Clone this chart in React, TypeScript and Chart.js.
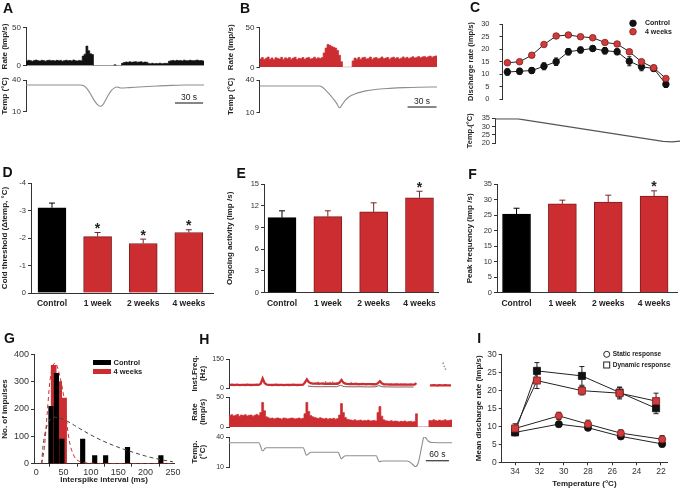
import React, { useEffect, useRef } from "react";
import { Chart, registerables } from "chart.js";

Chart.register(...registerables);

const FONT = "'Liberation Sans', Arial, Helvetica, sans-serif";
Chart.defaults.font.family = FONT;

const INK = "#222222";
const AXIS = "#333333";
const TICK = "#333333";
const RED = "#cc2d30";
const RED_PT = "#d13b3b";
const RED_EDGE = "#7e1d1d";
const ERR_RED = "#7a2525";
const TRACE = "#8e8e8e";

/* ====================== DATA ====================== */

// A: control unit, 2-s rate bins (imp/s) and temperature trace
const aBinSec = 2;
const aRate = [
  6.2, 7.1, 6.5, 5.8, 6.9, 7.3, 6.4, 6.0, 7.0, 6.6, 5.9, 6.8, 7.2, 6.3, 6.7, 6.1, 7.0, 6.5, 6.9, 5.8,
  6.6, 7.1, 6.4, 6.8, 6.2, 7.4, 6.5, 6.0, 6.9, 6.3,
  12.5, 15, 25.5, 19.5, 15.5, 14.5,
  0, 0, 0, 0, 0, 0, 0, 0, 0, 0, 0,
  1.2, 0, 0, 0,
  3.2, 4.2, 4.8, 4.5, 5.0, 4.4, 4.9, 5.2, 4.6, 4.8, 5.1, 4.3, 4.7, 4.5,
  3.0, 2.6, 3.2, 2.4, 2.9, 2.7, 3.3, 2.5, 2.8, 3.1, 2.9,
  5.8, 6.4, 6.9, 6.2, 7.0, 6.5, 6.8, 6.1, 7.2, 6.6, 6.3, 7.1, 6.7, 6.4, 6.9, 7.3, 6.6, 6.8, 6.2,
];
const aTempSec = [0, 58, 61, 64, 67, 70, 73, 76, 79, 82, 85, 88, 91, 94, 97, 99, 102, 110, 125, 140, 155, 170, 190];
const aTempC = [35.3, 35.3, 34.8, 33, 29.5, 25, 20.5, 17, 15.2, 16.5, 21, 26, 30, 32.3, 33.4, 33, 32.4, 32.8, 33.6, 34.3, 34.9, 35.2, 35.3];
const aScaleBarEndSec = 189;

// B: 4-week unit
const bBinSec = 2;
const bRate = [
  10.5, 12.2, 9.8, 11.4, 12.8, 10.1, 11.7, 9.5, 12.0, 11.1, 10.4, 12.5, 9.9, 11.8, 10.7, 12.3, 10.2, 11.5, 12.6, 9.7,
  11.2, 10.8, 12.1, 10.0, 11.6, 12.4, 10.3, 11.0, 12.7, 10.6, 11.9, 10.9, 12.2,
  18, 24, 28.5, 27.5, 26, 25, 24, 21, 15, 7,
  0, 0, 0, 0, 0,
  8,
  11.5, 10.2, 12.4, 9.8, 11.9, 12.6, 10.4, 11.1, 12.8, 10.0, 11.7, 12.2, 10.6, 11.3, 12.9, 10.8, 11.6, 12.3, 10.1, 11.8,
  12.7, 11.0, 12.1, 10.5, 11.4, 13.0, 11.2, 12.5, 10.9, 12.0, 13.2, 11.6, 12.4, 13.4, 11.8, 12.9, 13.6, 12.2, 13.1, 14.0,
  12.6, 13.5, 14.2,
];
const bTempSec = [0, 62, 65, 68, 71, 74, 77, 80, 83, 86, 89, 93, 97, 102, 110, 120, 135, 150, 165, 184];
const bTempC = [34.5, 34.5, 33.6, 31.2, 28.5, 25.5, 22.2, 18.5, 14.5, 17.8, 21.5, 24.6, 26.5, 28.2, 30, 31.3, 32.3, 33, 33.4, 33.6];
const bScaleBarEndSec = 183.5;
const scaleBarSec = 30;

// C: discharge rate during cooling ramp
const cStep = [0, 1, 2, 3, 4, 5, 6, 7, 8, 9, 10, 11, 12, 13];
const cControl = [10.8, 11.1, 11.4, 13.1, 14.9, 18.9, 19.6, 20.2, 19.3, 18.9, 15.1, 12.9, 12.2, 5.9];
const cControlErr = [1.3, 1.2, 1.2, 1.4, 1.5, 1.3, 1.2, 1.1, 1.3, 1.2, 1.8, 1.6, 1.2, 1.3];
const cWeeks4 = [14.5, 14.9, 17.5, 21.8, 25.2, 25.6, 24.9, 24.5, 22.6, 22.0, 18.9, 14.9, 12.5, 8.2];
const cWeeks4Err = [0.6, 0.6, 0.6, 0.6, 0.6, 0.6, 0.6, 0.6, 0.7, 0.7, 0.8, 0.8, 1.0, 0.8];
const cTempSec = [0, 23, 168, 177, 185];
const cTempC = [34.6, 34.6, 21.1, 20.8, 21.3];

// D, E, F: group bars
const groups = ["Control", "1 week", "2 weeks", "4 weeks"];
const thresholdMean = [-3.1, -2.05, -1.8, -2.2];
const thresholdErr = [0.17, 0.15, 0.16, 0.1];
const thresholdStar = [false, true, true, true];
const ongoingMean = [10.35, 10.5, 11.15, 13.1];
const ongoingErr = [0.95, 0.8, 1.25, 0.9];
const ongoingStar = [false, false, false, true];
const peakMean = [25.3, 28.6, 29.2, 31.1];
const peakErr = [1.9, 1.2, 2.2, 1.7];
const peakStar = [false, false, false, true];

// G: interspike interval histogram
const isiMsControl = [27, 37, 47, 85, 107, 127, 167, 228];
const isiCountControl = [210, 330, 90, 90, 30, 30, 60, 30];
const isiMs4w = [32, 42, 51];
const isiCount4w = [360, 300, 240];
const fitMs = [10, 12, 15, 20, 25, 30, 35, 40, 50, 60, 70, 80, 100, 120, 140, 160, 180, 200, 220, 250];
const fitControl = [0, 55, 100, 140, 160, 168, 170, 168, 162, 152, 140, 128, 105, 85, 68, 53, 40, 28, 18, 7];
const fit4w = [0, 20, 60, 180, 300, 355, 368, 345, 250, 90, 25, 8, 2, 1, 0, 0, 0, 0, 0, 0];

// H: step cooling, 5-s bins
const hBinSec = 5;
const hRate = [
  19, 20.5, 18.5, 19.5, 21, 18, 20, 19, 20.5, 18.5, 19.5, 20, 18, 19.5, 21, 19,
  24, 41, 27, 17,
  15.5, 14, 15, 13.5, 14.5, 15, 14, 13, 15, 14.5, 13.5, 14, 15, 14.5, 13.5, 14, 15, 13.5, 14.5,
  22, 41, 26, 19,
  17, 16, 15, 14, 15.5, 14, 13.5, 14.5, 13, 14, 13.5, 14.5, 13, 14,
  20, 39, 24, 16,
  13, 12, 11.5, 11, 12, 10.5, 11, 11.5, 10, 11, 10.5, 11.5, 10, 10.5, 11, 10,
  24, 34, 18,
  12, 10.5, 10, 9.5, 10.5, 9, 10, 9.5, 8.5, 9.5, 9, 10, 8.5, 9, 9.5, 8.5, 9,
  22,
  0, 0, 0, 0, 0, 0,
  11, 10.5, 12, 11, 10, 11.5, 10.5, 11, 12, 10.5, 11, 11.5,
];
const hFreq = [
  16, 17, 15.5, 16.5, 17, 15, 16, 16.5, 15.5, 17, 16, 15.5, 16.5, 16, 17, 16,
  22, 50, 26, 18,
  16.5, 16, 15.5, 16, 17, 15.5, 16, 16.5, 15, 16, 16.5, 15.5, 16, 17, 16, 15.5, 16.5, 16, 17,
  28, 45, 30, 25,
  23, 22.5, 23.5, 22, 23, 22.5, 21.5, 23, 22, 22.5, 21.5, 22, 23, 22,
  28, 42, 28, 23,
  21, 20.5, 21.5, 20, 21, 20.5, 19.5, 20.5, 21, 20, 19.5, 20.5, 20, 19.5, 20.5, 19,
  25, 35, 24,
  19, 18.5, 19, 18, 18.5, 17.5, 18.5, 18, 17.5, 18, 17, 18, 17.5, 17, 18, 17, 17.5,
  25,
  null, null, null, null, null, null,
  14, 13.5, 14.5, 14, 13, 14.5, 13.5, 14, 14.5, 13.5, 14, 13.5,
];
const hFreq2Sec = [205, 220, 240, 260, 280, 290, 300, 320, 340, 360, 380, 390, 400, 420, 440, 460, 480];
const hFreq2Hz = [10, 7, 6.5, 7, 6.5, 14, 7, 6, 6.5, 5.5, 6, 12, 6, 5.5, 5, 5.5, 5];
const hDotSec = [232, 245, 251, 263, 270, 281, 318, 331, 557, 560, 563];
const hDotHz = [29, 27, 31, 28, 30, 27, 26, 25, 128, 112, 98];
const hTempSec = [0, 78, 82, 86, 89, 93, 98, 193, 197, 201, 205, 210, 214, 284, 288, 292, 296, 301, 305, 383, 387, 391, 396, 402, 462, 470, 478, 485, 492, 498, 503, 507, 512, 518, 528, 580];
const hTempC = [34.3, 34.3, 31, 26.5, 26.2, 28.5, 29.3, 29.3, 26, 21.8, 22.5, 24.2, 24.7, 24.7, 21.5, 18.2, 19.5, 21, 21.3, 21.3, 18, 15.4, 15.8, 16, 16, 15, 12.5, 10.3, 14, 24, 34, 40.3, 39, 36, 34.5, 34.3];
const hScaleBarEndSec = 572;
const hScaleBarSec = 60;

// I: static / dynamic responses vs temperature
const iDynTemp = [34, 32.2, 28.5, 25.4, 22.4];
const iDynControl = [8.3, 25.4, 24.0, 19.4, 15.0];
const iDynControlErr = [0.8, 2.3, 2.6, 1.5, 1.5];
const iDyn4w = [9.4, 22.7, 19.9, 19.2, 17.0];
const iDyn4wErr = [1.3, 2.2, 1.2, 1.6, 2.2];
const iStatTemp = [34, 30.4, 28, 25.3, 21.9];
const iStatControl = [8.3, 10.6, 9.6, 7.2, 5.1];
const iStatControlErr = [0.6, 0.5, 0.5, 0.6, 0.8];
const iStat4w = [9.4, 12.9, 10.6, 8.1, 6.4];
const iStat4wErr = [0.8, 1.0, 1.1, 0.9, 1.0];

/* ====================== LAYOUT ====================== */

const BOX: Record<string, number[]> = {
  aRate: [0, 15, 215, 60], aTemp: [0, 72, 215, 45],
  bRate: [226, 15, 220, 60], bTemp: [226, 72, 220, 45],
  c: [466, 8, 214, 100], cTemp: [465, 106, 215, 46],
  d: [0, 175, 222, 140], e: [225, 175, 225, 140], f: [465, 175, 215, 140],
  g: [0, 345, 190, 145],
  hFreq: [191, 352, 265, 40], hRate: [191, 392, 265, 38], hTemp: [191, 432, 265, 40],
  i: [474, 345, 206, 145],
};
const AREA: Record<string, number[]> = {
  aRate: [26, 27.3, 204, 65.7], aTemp: [26, 80, 204, 111.7],
  bRate: [259.5, 27.3, 437, 67.3], bTemp: [259.5, 80, 437, 112.7],
  c: [502.5, 24, 672, 99], cTemp: [495, 118.3, 680, 143.3],
  d: [31, 183, 213, 293], e: [264, 184, 438, 292.7], f: [497, 184, 677, 292.7],
  g: [34, 354.3, 174, 463.7],
  hFreq: [229, 359, 452, 388], hRate: [229, 397, 452, 427], hTemp: [229, 437, 452, 467],
  i: [501.7, 354.3, 667, 462.3],
};

type Frame = { padding: any; yW: number; xH: number; ox: number; oy: number };
function frame(key: string): Frame {
  const box = BOX[key];
  const area = AREA[key];
  return {
    padding: { left: 0, top: area[1] - box[1], right: box[0] + box[2] - area[2], bottom: 0 },
    yW: area[0] - box[0],
    xH: box[1] + box[3] - area[3],
    ox: box[0],
    oy: box[1],
  };
}

const zeroPad = (s: any) => {
  s.paddingLeft = 0; s.paddingRight = 0; s.paddingTop = 0; s.paddingBottom = 0;
};
const fnt = (size: number, bold = false, lh = 1.2) => ({ family: FONT, size, weight: bold ? "bold" : "normal", lineHeight: lh });

function yAx(f: Frame, o: any) {
  return {
    type: "linear", position: "left", min: o.min, max: o.max, reverse: !!o.reverse, offset: false,
    afterFit: (s: any) => { s.width = f.yW; zeroPad(s); },
    afterBuildTicks: (s: any) => { s.ticks = o.ticks.map((v: number) => ({ value: v })); },
    grid: { display: true, drawOnChartArea: false, drawTicks: true, tickLength: o.tickLen ?? 3, color: AXIS, lineWidth: 1 },
    border: { display: true, color: AXIS, width: 1 },
    ticks: { font: fnt(o.tickSize ?? 7.5), color: TICK, padding: o.tickPad ?? 2, autoSkip: false, callback: (v: any) => String(v) },
    title: {
      display: !!o.title, text: o.title || "", color: INK,
      font: fnt(o.titleSize ?? 8, true, o.titleLH ?? 1.2),
      padding: { top: o.titlePad ?? 0, bottom: 0 },
    },
  };
}

function xAx(f: Frame, o: any) {
  return {
    type: "linear", position: "bottom", min: o.min, max: o.max, reverse: !!o.reverse, offset: false,
    afterFit: (s: any) => { s.height = f.xH; zeroPad(s); },
    afterBuildTicks: (s: any) => { s.ticks = o.ticks.map((v: number) => ({ value: v })); },
    grid: { display: !!o.tickMarks, drawOnChartArea: false, drawTicks: !!o.tickMarks, tickLength: 3, color: AXIS, lineWidth: 1 },
    border: { display: true, color: AXIS, width: 1 },
    ticks: {
      font: fnt(o.tickSize ?? 8, !!o.tickBold), color: o.tickBold ? INK : TICK, padding: o.tickPad ?? 0,
      autoSkip: false, maxRotation: 0, minRotation: 0, callback: o.fmt ?? ((v: any) => String(v)),
    },
    title: {
      display: !!o.title, text: o.title || "", color: INK, font: fnt(o.titleSize ?? 8, true),
      padding: { top: 0, bottom: o.titlePad ?? 0 },
    },
  };
}

function xHidden(f: Frame, min: number, max: number) {
  return {
    type: "linear", position: "bottom", min, max, offset: false,
    afterFit: (s: any) => { s.height = f.xH; zeroPad(s); },
    grid: { display: false, drawTicks: false }, border: { display: false }, ticks: { display: false },
  };
}

function opts(f: Frame, scales: any) {
  return {
    responsive: false, maintainAspectRatio: false, animation: false, events: [],
    layout: { padding: f.padding },
    plugins: { legend: { display: false }, tooltip: { enabled: false }, title: { display: false } },
    scales,
  };
}

const pts = (xs: number[], ys: (number | null)[]) => xs.map((x, i) => ({ x, y: ys[i] }));
function histPts(vals: number[], bin: number) {
  const p = vals.map((v, i) => ({ x: i * bin, y: v }));
  p.push({ x: vals.length * bin, y: vals[vals.length - 1] });
  return p;
}

function vErr(ctx: any, x: number, yA: number, yB: number, cap: number, color: string) {
  ctx.save();
  ctx.strokeStyle = color; ctx.lineWidth = 1;
  ctx.beginPath();
  ctx.moveTo(x, yA); ctx.lineTo(x, yB);
  ctx.moveTo(x - cap, yA); ctx.lineTo(x + cap, yA);
  ctx.moveTo(x - cap, yB); ctx.lineTo(x + cap, yB);
  ctx.stroke();
  ctx.restore();
}

function scaleBar(f: Frame, endVal: number, sec: number, label: string, barY: number, textY: number) {
  return {
    id: "scaleBar",
    afterDraw(chart: any) {
      const xs = chart.scales.x;
      const ctx = chart.ctx;
      const x1 = xs.getPixelForValue(endVal - sec);
      const x2 = xs.getPixelForValue(endVal);
      ctx.save();
      ctx.strokeStyle = "#444"; ctx.lineWidth = 1.3;
      ctx.beginPath(); ctx.moveTo(x1, barY - f.oy); ctx.lineTo(x2, barY - f.oy); ctx.stroke();
      ctx.fillStyle = INK; ctx.font = `8.5px ${FONT}`; ctx.textAlign = "center"; ctx.textBaseline = "middle";
      ctx.fillText(label, (x1 + x2) / 2, textY - f.oy);
      ctx.restore();
    },
  };
}

/* ====================== PANELS ====================== */

function rateCfg(key: string, vals: number[], bin: number, color: string, yTitle: any, tickSize: number, titleLH = 1.2) {
  const f = frame(key);
  return {
    type: "line",
    data: { datasets: [{ data: histPts(vals, bin), stepped: true, fill: "origin", backgroundColor: color, borderColor: color, borderWidth: 0.7, pointRadius: 0 }] },
    options: opts(f, {
      x: xHidden(f, 0, vals.length * bin),
      y: yAx(f, { min: 0, max: 50, ticks: [0, 50], title: yTitle, tickSize, titleLH }),
    }),
  };
}

function tempCfg(key: string, xs: number[], ys: number[], xmax: number, yTitle: any, tickSize: number, bar: any, titleLH = 1.2) {
  const f = frame(key);
  return {
    type: "line",
    data: { datasets: [{ data: pts(xs, ys), borderColor: TRACE, borderWidth: 1.1, pointRadius: 0, cubicInterpolationMode: "monotone" }] },
    options: opts(f, {
      x: xHidden(f, 0, xmax),
      y: yAx(f, { min: 10, max: 40, ticks: [10, 40], title: yTitle, tickSize, titleLH }),
    }),
    plugins: [scaleBar(f, bar.end, bar.sec, bar.label, bar.barY, bar.textY)],
  };
}

function cfgC() {
  const f = frame("c");
  return {
    type: "line",
    data: {
      datasets: [
        { data: pts(cStep, cWeeks4), borderColor: "#222", borderWidth: 1, pointRadius: 3.3, pointBackgroundColor: RED_PT, pointBorderColor: RED_EDGE, pointBorderWidth: 0.8 },
        { data: pts(cStep, cControl), borderColor: "#222", borderWidth: 1, pointRadius: 3.3, pointBackgroundColor: "#111", pointBorderColor: "#111", pointBorderWidth: 0.8 },
      ],
    },
    options: opts(f, {
      x: xHidden(f, -0.4, 13.5),
      y: yAx(f, { min: 0, max: 30, ticks: [0, 5, 10, 15, 20, 25, 30], title: "Discharge rate (imp/s)", tickPad: 10, tickSize: 7.5, titleSize: 7.5 }),
    }),
    plugins: [{
      id: "cDeco",
      beforeDatasetsDraw(chart: any) {
        const xs = chart.scales.x, ys = chart.scales.y;
        cStep.forEach((s, i) => {
          const x = xs.getPixelForValue(s);
          vErr(chart.ctx, x, ys.getPixelForValue(cControl[i] + cControlErr[i]), ys.getPixelForValue(cControl[i] - cControlErr[i]), 2, "#111");
          vErr(chart.ctx, x, ys.getPixelForValue(cWeeks4[i] + cWeeks4Err[i]), ys.getPixelForValue(cWeeks4[i] - cWeeks4Err[i]), 2, "#333");
        });
      },
      afterDraw(chart: any) {
        const ctx = chart.ctx;
        ctx.save();
        const items = [["Control", "#111", "#111", 23.3], ["4 weeks", RED_PT, RED_EDGE, 31.7]];
        items.forEach(([t, fill, edge, y]: any) => {
          ctx.beginPath(); ctx.arc(633 - f.ox, y - f.oy, 3.3, 0, Math.PI * 2);
          ctx.fillStyle = fill; ctx.fill(); ctx.strokeStyle = edge; ctx.lineWidth = 0.8; ctx.stroke();
          ctx.fillStyle = INK; ctx.font = `bold 7px ${FONT}`; ctx.textAlign = "left"; ctx.textBaseline = "middle";
          ctx.fillText(t, 645 - f.ox, y - f.oy);
        });
        ctx.restore();
      },
    }],
  };
}

function cfgCTemp() {
  const f = frame("cTemp");
  return {
    type: "line",
    data: { datasets: [{ data: pts(cTempSec, cTempC), borderColor: "#555", borderWidth: 1.2, pointRadius: 0 }] },
    options: opts(f, {
      x: xHidden(f, 0, 185),
      y: yAx(f, { min: 20, max: 35, ticks: [20, 25, 30, 35], title: "Temp.(°C)", tickSize: 7.5, titleSize: 7.5 }),
    }),
  };
}

function barCfg(key: string, means: number[], errs: number[], stars: boolean[], xr: number[], yo: any) {
  const f = frame(key);
  return {
    type: "bar",
    data: {
      datasets: [{
        data: means.map((y, i) => ({ x: i, y })),
        backgroundColor: means.map((_, i) => (i === 0 ? "#000" : RED)),
        borderColor: means.map((_, i) => (i === 0 ? "#000" : RED_EDGE)),
        borderWidth: 1, barThickness: 28,
      }],
    },
    options: opts(f, {
      x: xAx(f, {
        min: xr[0], max: xr[1], ticks: groups.map((_, i) => i), tickBold: true, tickSize: 8.5, tickPad: 6,
        fmt: (v: any) => groups[v] ?? "",
      }),
      y: yAx(f, yo),
    }),
    plugins: [{
      id: "barDeco",
      afterDatasetsDraw(chart: any) {
        const ctx = chart.ctx;
        const xs = chart.scales.x, ys = chart.scales.y;
        ctx.save();
        means.forEach((m, i) => {
          const x = xs.getPixelForValue(i);
          const yBar = ys.getPixelForValue(m);
          const yTip = ys.getPixelForValue(m + Math.sign(m) * errs[i]);
          ctx.strokeStyle = i === 0 ? "#000" : ERR_RED; ctx.lineWidth = 1;
          ctx.beginPath(); ctx.moveTo(x, yBar); ctx.lineTo(x, yTip); ctx.moveTo(x - 3, yTip); ctx.lineTo(x + 3, yTip); ctx.stroke();
          if (stars[i]) {
            ctx.fillStyle = INK; ctx.font = `bold 14px ${FONT}`; ctx.textAlign = "center"; ctx.textBaseline = "alphabetic";
            ctx.fillText("*", x, yTip + 0.5);
          }
        });
        ctx.restore();
      },
    }],
  };
}

function cfgG() {
  const f = frame("g");
  return {
    type: "bar",
    data: {
      datasets: [
        { type: "line", data: pts(fitMs, fit4w), borderColor: RED, borderWidth: 1, borderDash: [4, 3], pointRadius: 0, cubicInterpolationMode: "monotone", order: 0 },
        { type: "line", data: pts(fitMs, fitControl), borderColor: "#444", borderWidth: 1, borderDash: [4, 3], pointRadius: 0, cubicInterpolationMode: "monotone", order: 0 },
        { data: pts(isiMsControl, isiCountControl), backgroundColor: "#000", barThickness: 4.5, grouped: false, order: 1 },
        { data: pts(isiMs4w, isiCount4w), backgroundColor: RED, barThickness: 5, grouped: false, order: 2 },
      ],
    },
    options: opts(f, {
      x: xAx(f, { min: -4, max: 252, ticks: [0, 50, 100, 150, 200, 250], tickMarks: true, tickSize: 9, title: "Interspike interval (ms)", titlePad: 5.9 }),
      y: yAx(f, { min: 0, max: 400, ticks: [0, 100, 200, 300, 400], tickSize: 9, title: "No. of impulses" }),
    }),
    plugins: [{
      id: "gLegend",
      afterDraw(chart: any) {
        const ctx = chart.ctx;
        ctx.save();
        [["Control", "#000", 360], ["4 weeks", RED, 369]].forEach(([t, c, y]: any) => {
          ctx.fillStyle = c; ctx.fillRect(93 - f.ox, y - f.oy, 18, 5);
          ctx.fillStyle = INK; ctx.font = `bold 7.5px ${FONT}`; ctx.textAlign = "left"; ctx.textBaseline = "middle";
          ctx.fillText(t, 113.5 - f.ox, y + 2.5 - f.oy);
        });
        ctx.restore();
      },
    }],
  };
}

function cfgHFreq() {
  const f = frame("hFreq");
  const t = hFreq.map((_, i) => i * hBinSec + hBinSec / 2);
  return {
    type: "line",
    data: {
      datasets: [
        { data: pts(t, hFreq), borderColor: RED, borderWidth: 2.3, pointRadius: 0, spanGaps: false },
        { data: pts(hFreq2Sec, hFreq2Hz), borderColor: "rgba(90,40,40,0.75)", borderWidth: 1, pointRadius: 0 },
        { data: pts(hDotSec, hDotHz), showLine: false, pointRadius: 0.9, pointBackgroundColor: "#999", pointBorderWidth: 0 },
      ],
    },
    options: opts(f, {
      x: xHidden(f, 0, hRate.length * hBinSec),
      y: yAx(f, { min: 0, max: 150, ticks: [0, 150], title: ["Inst.Freq.", "(Hz)"], tickSize: 7, titleLH: 1.0 }),
    }),
  };
}

function cfgI() {
  const f = frame("i");
  const mk = (xs: number[], ys: number[], style: string, fill: string, edge: string, r: number) => ({
    data: pts(xs, ys), borderColor: "#222", borderWidth: 1, pointStyle: style, pointRadius: r,
    pointBackgroundColor: fill, pointBorderColor: edge, pointBorderWidth: 0.8,
  });
  const errSets = [
    [iDynTemp, iDynControl, iDynControlErr], [iDynTemp, iDyn4w, iDyn4wErr],
    [iStatTemp, iStatControl, iStatControlErr], [iStatTemp, iStat4w, iStat4wErr],
  ];
  return {
    type: "line",
    data: {
      datasets: [
        mk(iDynTemp, iDyn4w, "rect", RED_PT, RED_EDGE, 5),
        mk(iDynTemp, iDynControl, "rect", "#111", "#111", 5),
        mk(iStatTemp, iStat4w, "circle", RED_PT, RED_EDGE, 3.6),
        mk(iStatTemp, iStatControl, "circle", "#111", "#111", 3.6),
      ],
    },
    options: opts(f, {
      x: xAx(f, { min: 21.5, max: 35.1, reverse: true, ticks: [34, 32, 30, 28, 26, 24, 22], tickMarks: true, tickSize: 8.5, tickPad: 1, title: "Temperature (°C)", titlePad: 1.2 }),
      y: yAx(f, { min: 0, max: 30, ticks: [0, 5, 10, 15, 20, 25, 30], tickSize: 8.5, title: "Mean discharge rate (imp/s)" }),
    }),
    plugins: [{
      id: "iDeco",
      beforeDatasetsDraw(chart: any) {
        const xs = chart.scales.x, ys = chart.scales.y;
        errSets.forEach(([tx, v, e]) => {
          tx.forEach((x, k) => {
            vErr(chart.ctx, xs.getPixelForValue(x), ys.getPixelForValue(v[k] + e[k]), ys.getPixelForValue(v[k] - e[k]), 2.5, "#222");
          });
        });
      },
      afterDraw(chart: any) {
        const ctx = chart.ctx;
        ctx.save();
        ctx.strokeStyle = "#222"; ctx.lineWidth = 1;
        ctx.beginPath(); ctx.arc(606.7 - f.ox, 354.3 - f.oy, 3, 0, Math.PI * 2); ctx.stroke();
        ctx.strokeRect(603.7 - f.ox, 362 - f.oy, 6, 6);
        ctx.fillStyle = INK; ctx.font = `bold 6.5px ${FONT}`; ctx.textAlign = "left"; ctx.textBaseline = "middle";
        ctx.fillText("Static response", 612.7 - f.ox, 354.3 - f.oy);
        ctx.fillText("Dynamic response", 612.7 - f.ox, 365 - f.oy);
        ctx.restore();
      },
    }],
  };
}

const PANELS: { key: string; build: () => any }[] = [
  { key: "aRate", build: () => rateCfg("aRate", aRate, aBinSec, "#111", "Rate (imp/s)", 8) },
  { key: "aTemp", build: () => tempCfg("aTemp", aTempSec, aTempC, aRate.length * aBinSec, "Temp (°C)", 8, { end: aScaleBarEndSec, sec: scaleBarSec, label: "30 s", barY: 103, textY: 97.5 }) },
  { key: "bRate", build: () => rateCfg("bRate", bRate, bBinSec, RED, "Rate (imp/s)", 8) },
  { key: "bTemp", build: () => tempCfg("bTemp", bTempSec, bTempC, bRate.length * bBinSec, "Temp (°C)", 8, { end: bScaleBarEndSec, sec: scaleBarSec, label: "30 s", barY: 107, textY: 101.5 }) },
  { key: "c", build: cfgC },
  { key: "cTemp", build: cfgCTemp },
  { key: "d", build: () => barCfg("d", thresholdMean, thresholdErr, thresholdStar, [-0.46, 3.53], { min: -4, max: 0, reverse: true, ticks: [-4, -3, -2, -1, 0], title: "Cold threshold (Δtemp, °C)" }) },
  { key: "e", build: () => barCfg("e", ongoingMean, ongoingErr, ongoingStar, [-0.393, 3.404], { min: 0, max: 15, ticks: [0, 3, 6, 9, 12, 15], title: "Ongoing activity (Imp /s)" }) },
  { key: "f", build: () => barCfg("f", peakMean, peakErr, peakStar, [-0.426, 3.5], { min: 0, max: 35, ticks: [0, 5, 10, 15, 20, 25, 30, 35], title: "Peak frequency (imp /s)" }) },
  { key: "g", build: cfgG },
  { key: "hFreq", build: cfgHFreq },
  { key: "hRate", build: () => rateCfg("hRate", hRate, hBinSec, RED, ["Rate", "(imp/s)"], 7, 1.0) },
  { key: "hTemp", build: () => tempCfg("hTemp", hTempSec, hTempC, hRate.length * hBinSec, ["Temp.", "(°C)"], 7, { end: hScaleBarEndSec, sec: hScaleBarSec, label: "60 s", barY: 460.7, textY: 454.3 }, 1.0) },
  { key: "i", build: cfgI },
];

const LETTERS = [
  { t: "A", x: 3, y: 1.4 }, { t: "B", x: 240, y: 1.4 }, { t: "C", x: 470, y: -0.2 },
  { t: "D", x: 2.5, y: 165 }, { t: "E", x: 236.5, y: 166 }, { t: "F", x: 468.3, y: 167 },
  { t: "G", x: 4, y: 331 }, { t: "H", x: 199.3, y: 332 }, { t: "I", x: 477.3, y: 331 },
];

function ChartCanvas({ k, build }: { k: string; build: () => any }) {
  const ref = useRef<HTMLCanvasElement | null>(null);
  const box = BOX[k];
  useEffect(() => {
    if (!ref.current) return;
    const chart = new Chart(ref.current, build());
    return () => chart.destroy();
  }, []);
  return (
    <canvas
      ref={ref}
      width={box[2]}
      height={box[3]}
      style={{ position: "absolute", left: box[0], top: box[1], width: box[2], height: box[3] }}
    />
  );
}

export default function App() {
  return (
    <div style={{ position: "absolute", left: 0, top: 0, width: 680, height: 490, background: "#fff", overflow: "hidden" }}>
      {PANELS.map((p) => (
        <ChartCanvas key={p.key} k={p.key} build={p.build} />
      ))}
      {LETTERS.map((l) => (
        <div
          key={l.t}
          style={{ position: "absolute", left: l.x, top: l.y, font: `bold 14px ${FONT}`, lineHeight: "14px", color: "#111" }}
        >
          {l.t}
        </div>
      ))}
    </div>
  );
}
